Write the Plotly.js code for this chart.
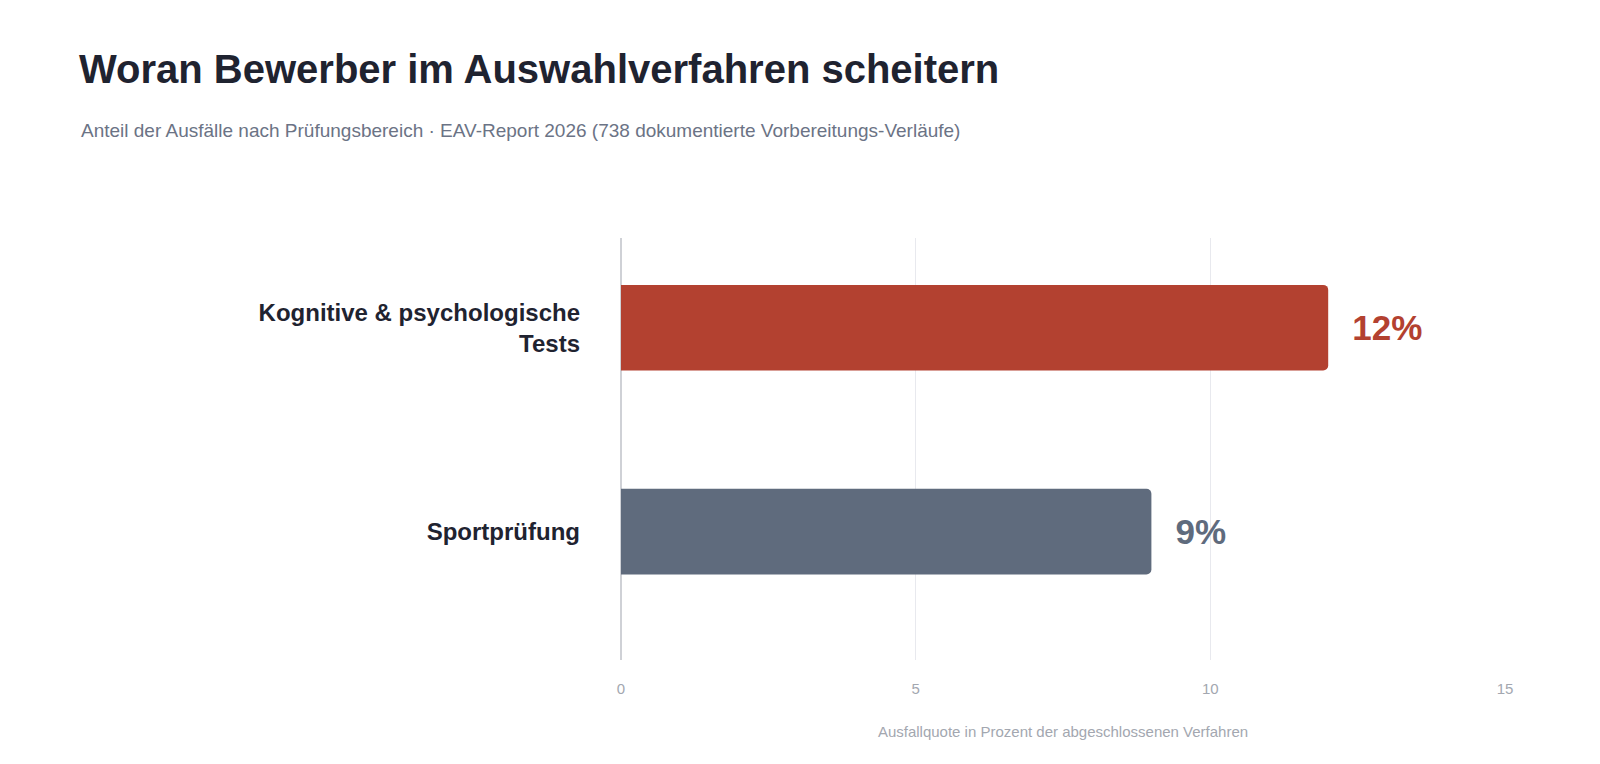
<!DOCTYPE html>
<html>
<head>
<meta charset="utf-8">
<script src="https://cdn.plot.ly/plotly-3.0.1.min.js"></script>
<style>body{margin:0;background:#fff}#chart{width:1600px;height:764px}</style>
</head>
<body>
<div id="chart"></div>
<script>
// Ausfallquote je Prüfungsbereich
const categories = ["Kognitive & psychologische<br>Tests", "Sportprüfung"];
const values = [12, 9];
const barColors = ["#b34130", "#5f6b7d"];
const labels = values.map(v => v + "%");

const trace = {
  type: "bar",
  orientation: "h",
  y: categories,
  x: values,
  width: 0.42,
  marker: { color: barColors },
  text: labels.map(t => "\u2009\u2009\u2009" + t),
  textposition: "outside",
  cliponaxis: false,
  textfont: { size: 35, color: barColors, family: "Liberation Sans, Arial, sans-serif", weight: 700 },
  hoverinfo: "skip"
};

const layout = {
  width: 1600, height: 764,
  margin: { l: 621, r: 95, t: 238, b: 104 },
  paper_bgcolor: "#fff", plot_bgcolor: "#fff",
  font: { family: "Liberation Sans, Arial, sans-serif" },
  barcornerradius: 5,
  showlegend: false,
  title: {
    text: "<b>Woran Bewerber im Auswahlverfahren scheitern</b>",
    xref: "container", yref: "container",
    x: 79 / 1600, xanchor: "left",
    y: 1 - 55 / 764, yanchor: "top",
    font: { size: 40, color: "#1f2330" }
  },
  annotations: [{
    text: "Anteil der Ausfälle nach Prüfungsbereich · EAV-Report 2026 (738 dokumentierte Vorbereitungs-Verläufe)",
    xref: "paper", yref: "paper",
    x: (79 - 621) / 884, xanchor: "left",
    y: (660 - 130) / 422, yanchor: "middle",
    showarrow: false,
    font: { size: 19, color: "#6b7385" }
  }],
  xaxis: {
    range: [0, 15],
    tickvals: [0, 5, 10, 15],
    showgrid: true, gridcolor: "#e8e9ee", gridwidth: 1,
    zeroline: true, zerolinecolor: "#cfd1d6", zerolinewidth: 2,
    tickfont: { size: 15, color: "#a3a7b0" },
    ticklabelstandoff: 18,
    title: { text: "Ausfallquote in Prozent der abgeschlossenen Verfahren", font: { size: 15, color: "#a3a7b0" }, standoff: 30 },
    fixedrange: true
  },
  yaxis: {
    categoryorder: "array", categoryarray: categories,
    range: [1.63, -0.44],
    showgrid: false, zeroline: false,
    tickfont: { size: 24, color: "#1f2330", weight: 700 },
    ticklabelstandoff: 40,
    ticks: "",
    fixedrange: true
  }
};

Plotly.newPlot("chart", [trace], layout, { displayModeBar: false, staticPlot: true });
</script>
</body>
</html>
